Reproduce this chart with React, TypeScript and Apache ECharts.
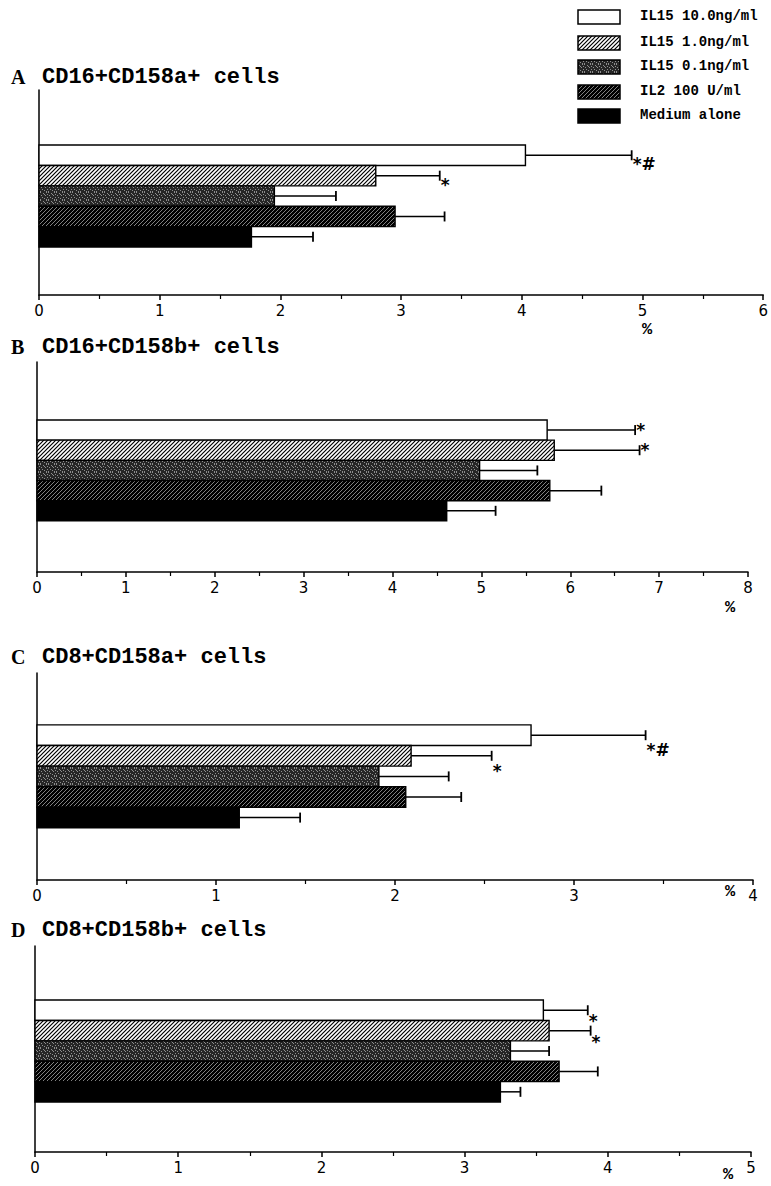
import React, { useEffect, useRef } from 'react';
import * as echarts from 'echarts';

// ---------- data ----------
const TREATMENTS = ['IL15 10.0ng/ml', 'IL15 1.0ng/ml', 'IL15 0.1ng/ml', 'IL2 100 U/ml', 'Medium alone'];
const PANEL_LETTERS = ['A', 'B', 'C', 'D'];
const PANEL_TITLES = ['CD16+CD158a+ cells', 'CD16+CD158b+ cells', 'CD8+CD158a+ cells', 'CD8+CD158b+ cells'];
const X_MAX = [6, 8, 4, 5];

const MEAN_A = [4.03, 2.79, 1.95, 2.95, 1.76];
const SD_A = [0.88, 0.53, 0.51, 0.41, 0.51];
const SIG_A = ['*#', '*', '', '', ''];

const MEAN_B = [5.74, 5.82, 4.98, 5.77, 4.61];
const SD_B = [0.99, 0.96, 0.65, 0.58, 0.55];
const SIG_B = ['*', '*', '', '', ''];

const MEAN_C = [2.76, 2.09, 1.91, 2.06, 1.13];
const SD_C = [0.64, 0.45, 0.39, 0.31, 0.34];
const SIG_C = ['*#', '*', '', '', ''];

const MEAN_D = [3.55, 3.59, 3.32, 3.66, 3.25];
const SD_D = [0.31, 0.29, 0.27, 0.27, 0.14];
const SIG_D = ['*', '*', '', '', ''];

const MEANS = [MEAN_A, MEAN_B, MEAN_C, MEAN_D];
const SDS = [SD_A, SD_B, SD_C, SD_D];
const SIGS = [SIG_A, SIG_B, SIG_C, SIG_D];

// ---------- layout ----------
const GRIDS = [
  { left: 39, width: 728, top: 90, height: 205, yMin: -3.2, yMax: 6.85, titleY: 77, pctX: 648, pctY: 330, sigDy: 9 },
  { left: 37, width: 711, top: 362, height: 210, yMin: -3.37, yMax: 7.03, titleY: 347, pctX: 731, pctY: 608, sigDy: 0 },
  { left: 37, width: 716, top: 673, height: 207, yMin: -3.02, yMax: 7.03, titleY: 657, pctX: 731, pctY: 892, sigDy: 15 },
  { left: 35, width: 716, top: 946, height: 206, yMin: -3.15, yMax: 6.95, titleY: 930, pctX: 729, pctY: 1175, sigDy: 11 },
];
const LEGEND_Y = [17, 43, 67, 92, 116];

function tile(w: number, h: number, draw: (ctx: CanvasRenderingContext2D) => void) {
  const c = document.createElement('canvas');
  c.width = w;
  c.height = h;
  const ctx = c.getContext('2d') as CanvasRenderingContext2D;
  draw(ctx);
  return { image: c.toDataURL(), repeat: 'repeat', imageWidth: w, imageHeight: h } as any;
}

function hatch(bg: string, fg: string, lw: number) {
  const s = 4;
  return tile(s, s, (ctx) => {
    ctx.fillStyle = bg;
    ctx.fillRect(0, 0, s, s);
    ctx.strokeStyle = fg;
    ctx.lineWidth = lw;
    ctx.beginPath();
    ctx.moveTo(0, s);
    ctx.lineTo(s, 0);
    ctx.moveTo(-1, 1);
    ctx.lineTo(1, -1);
    ctx.moveTo(s - 1, s + 1);
    ctx.lineTo(s + 1, s - 1);
    ctx.stroke();
  });
}

function stipple() {
  const pts = [[0, 0], [3, 1], [6, 0], [1, 3], [5, 3], [2, 5], [7, 5], [4, 6], [0, 7], [6, 7], [4, 2], [7, 2]];
  return tile(8, 8, (ctx) => {
    ctx.fillStyle = '#262626';
    ctx.fillRect(0, 0, 8, 8);
    ctx.fillStyle = '#8e8e8e';
    pts.forEach(([x, y]) => ctx.fillRect(x, y, 1, 1));
  });
}

export default function App() {
  const ref = useRef<HTMLDivElement>(null);

  useEffect(() => {
    document.body.style.margin = '0';
    if (!ref.current) return;
    const chart = echarts.init(ref.current, undefined, { renderer: 'svg' });

    const FILLS: any[] = [
      '#ffffff',
      hatch('#ffffff', '#000000', 1.2),
      stipple(),
      hatch('#000000', '#c8c8c8', 0.65),
      '#000000',
    ];

    const grid: any[] = [];
    const xAxis: any[] = [];
    const yAxis: any[] = [];
    const series: any[] = [];
    const graphic: any[] = [];

    GRIDS.forEach((g, pi) => {
      grid.push({ left: g.left, width: g.width, top: g.top, height: g.height, containLabel: false });
      xAxis.push({
        gridIndex: pi,
        type: 'value',
        min: 0,
        max: X_MAX[pi],
        interval: 1,
        axisLine: { show: true, onZero: false, lineStyle: { color: '#000', width: 1.5 } },
        axisTick: { show: true, length: 5, lineStyle: { color: '#000', width: 1.5 } },
        minorTick: { show: true, splitNumber: 2, length: 4, lineStyle: { color: '#000', width: 1.2 } },
        splitLine: { show: false },
        axisLabel: {
          show: true,
          color: '#000',
          fontFamily: 'DejaVu Sans',
          fontSize: 15,
          margin: 8,
          showMinLabel: true,
          showMaxLabel: true,
        },
      });
      yAxis.push({
        gridIndex: pi,
        type: 'value',
        inverse: true,
        min: g.yMin,
        max: g.yMax,
        axisLine: { show: true, onZero: false, lineStyle: { color: '#000', width: 1.5 } },
        axisTick: { show: false },
        axisLabel: { show: false },
        splitLine: { show: false },
      });

      TREATMENTS.forEach((name, ti) => {
        const sig = SIGS[pi][ti];
        series.push({
          type: 'custom',
          name,
          xAxisIndex: pi,
          yAxisIndex: pi,
          data: [[MEANS[pi][ti], ti, MEANS[pi][ti] + SDS[pi][ti]]],
          renderItem: (params: any, api: any) => {
            const v = api.value(0);
            const pos = api.value(1);
            const hi = api.value(2);
            const p0 = api.coord([0, pos]);
            const p1 = api.coord([v, pos]);
            const p2 = api.coord([hi, pos]);
            const h = Math.abs(api.size([0, 1])[1]);
            const children: any[] = [
              {
                type: 'line',
                shape: { x1: p1[0], y1: p1[1], x2: p2[0], y2: p1[1] },
                style: { stroke: '#000', lineWidth: 1.5 },
              },
              {
                type: 'line',
                shape: { x1: p2[0], y1: p1[1] - 5, x2: p2[0], y2: p1[1] + 5 },
                style: { stroke: '#000', lineWidth: 1.8 },
              },
              {
                type: 'rect',
                shape: { x: p0[0], y: p0[1] - h / 2, width: p1[0] - p0[0], height: h },
                style: { fill: FILLS[ti], stroke: '#000', lineWidth: 1.4 },
              },
            ];
            if (sig) {
              children.push({
                type: 'text',
                x: p2[0] + 1,
                y: p1[1] + g.sigDy,
                style: {
                  text: sig,
                  fill: '#000',
                  font: 'bold 17px "DejaVu Sans"',
                  textAlign: 'left',
                  textVerticalAlign: 'middle',
                },
              });
            }
            return { type: 'group', children };
          },
        });
      });

      graphic.push({
        type: 'text',
        left: 11,
        top: g.titleY - 10,
        style: { text: PANEL_LETTERS[pi], fill: '#000', font: 'bold 20px "Liberation Serif"' },
      });
      graphic.push({
        type: 'text',
        left: 42,
        top: g.titleY - 11,
        style: { text: PANEL_TITLES[pi], fill: '#000', font: 'bold 22px "Liberation Mono"' },
      });
      graphic.push({
        type: 'text',
        left: g.pctX - 6,
        top: g.pctY - 9,
        style: { text: '%', fill: '#000', font: 'bold 17px "Liberation Mono"' },
      });
    });

    TREATMENTS.forEach((name, ti) => {
      graphic.push({
        type: 'rect',
        shape: { x: 578, y: LEGEND_Y[ti] - 7, width: 42, height: 14 },
        style: { fill: FILLS[ti], stroke: '#000', lineWidth: 1.5 },
      });
      graphic.push({
        type: 'text',
        left: 640,
        top: LEGEND_Y[ti] - 8,
        style: { text: name, fill: '#000', font: 'bold 14px "Liberation Mono"' },
      });
    });

    chart.setOption({
      animation: false,
      backgroundColor: '#ffffff',
      grid,
      xAxis,
      yAxis,
      series,
      graphic,
    });

    return () => chart.dispose();
  }, []);

  return <div ref={ref} style={{ width: 771, height: 1186 }} />;
}
